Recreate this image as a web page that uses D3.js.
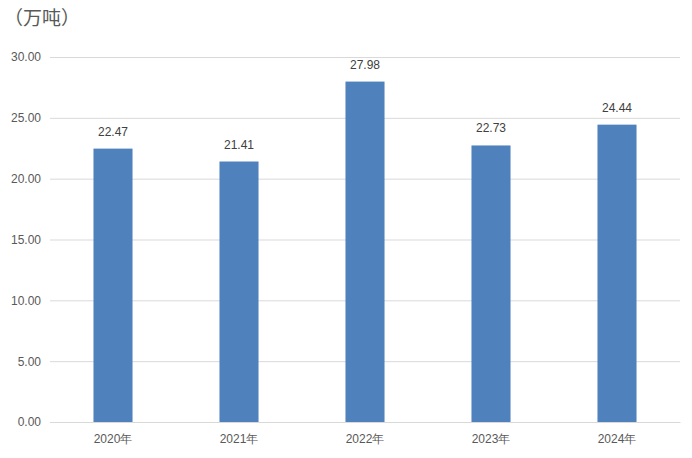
<!DOCTYPE html>
<html><head><meta charset="utf-8">
<script src="https://cdn.jsdelivr.net/npm/d3@7"></script>
<style>body{margin:0;background:#fff}svg{display:block;font-family:"Noto Sans CJK SC","Liberation Sans",sans-serif}</style>
</head><body><svg id="c" width="692" height="458"></svg>
<script>
const categories = ["2020年","2021年","2022年","2023年","2024年"];
const values = [22.47, 21.41, 27.98, 22.73, 24.44];
const yTicks = [0,5,10,15,20,25,30];
const unitLabel = "（万吨）";

(function(){
const svg = d3.select("#c");
const mL = 50, mR = 680, mT = 57, mB = 422;
const x = d3.scaleBand().domain(categories).range([mL, mR]).paddingInner(0.69).paddingOuter(0.345);
const y = d3.scaleLinear().domain([0,30]).range([mB, mT]);

svg.append("text").attr("x", 4).attr("y", 25).attr("font-size", 19).attr("fill", "#595959").text(unitLabel);

const ya = svg.append("g").attr("transform", `translate(${mL},0)`)
  .call(d3.axisLeft(y).tickValues(yTicks).tickSize(-(mR-mL)).tickFormat(d3.format(".2f")));
ya.select(".domain").remove();
ya.selectAll("line").attr("stroke", "#d9d9d9");
ya.selectAll("text").attr("x", -9).attr("fill", "#595959").attr("font-size", 12).attr("font-family", "Liberation Sans, sans-serif");

const xa = svg.append("g").attr("transform", `translate(0,${mB})`).call(d3.axisBottom(x).tickSize(0));
xa.select(".domain").attr("stroke", "#d9d9d9");
xa.selectAll("text").attr("dy", 0).attr("y", 21).attr("fill", "#595959").attr("font-size", 12);

svg.append("g").selectAll("rect").data(values).join("rect")
  .attr("x", (d,i) => x(categories[i])).attr("width", x.bandwidth())
  .attr("y", d => y(d)).attr("height", d => mB - y(d)).attr("fill", "#4f81bd");

svg.append("g").selectAll("text").data(values).join("text")
  .attr("x", (d,i) => x(categories[i]) + x.bandwidth()/2).attr("y", d => y(d) - 13)
  .attr("text-anchor", "middle").attr("font-size", 12).attr("fill", "#404040")
  .attr("font-family", "Liberation Sans, sans-serif").text(d => d.toFixed(2));
})();
</script></body></html>
